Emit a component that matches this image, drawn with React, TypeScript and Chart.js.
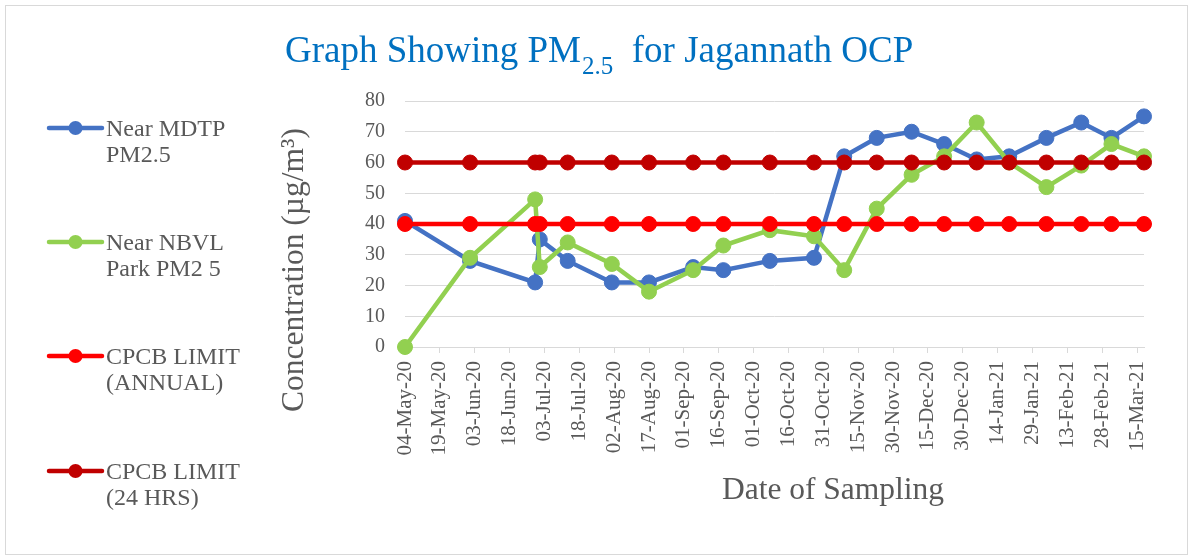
import React, { useEffect, useRef } from "react";
import { Chart, registerables } from "chart.js";

Chart.register(...registerables);

// ---- data ----
const sampleDates = [
  "2020-05-04", "2020-06-01", "2020-06-29", "2020-07-01", "2020-07-13",
  "2020-08-01", "2020-08-17", "2020-09-05", "2020-09-18", "2020-10-08",
  "2020-10-27", "2020-11-09", "2020-11-23", "2020-12-08", "2020-12-22",
  "2021-01-05", "2021-01-19", "2021-02-04", "2021-02-19", "2021-03-04",
  "2021-03-18",
];
const mdtpValues = [41, 28, 21, 35, 28, 21, 21, 26, 25, 28, 29, 62, 68, 70, 66, 61, 62, 68, 73, 68, 75];
const nbvlValues = [0, 29, 48, 26, 34, 27, 18, 25, 33, 38, 36, 25, 45, 56, 62, 73, 60, 52, 59, 66, 62];
const annualLimit = [40, 40, 40, 40, 40, 40, 40, 40, 40, 40, 40, 40, 40, 40, 40, 40, 40, 40, 40, 40, 40];
const dailyLimit = [60, 60, 60, 60, 60, 60, 60, 60, 60, 60, 60, 60, 60, 60, 60, 60, 60, 60, 60, 60, 60];

const tickDates = [
  "2020-05-04", "2020-05-19", "2020-06-03", "2020-06-18", "2020-07-03",
  "2020-07-18", "2020-08-02", "2020-08-17", "2020-09-01", "2020-09-16",
  "2020-10-01", "2020-10-16", "2020-10-31", "2020-11-15", "2020-11-30",
  "2020-12-15", "2020-12-30", "2021-01-14", "2021-01-29", "2021-02-13",
  "2021-02-28", "2021-03-15",
];
const yMin = 0;
const yMax = 80;
const yStep = 10;

const seriesLabels = [
  ["Near MDTP", "PM2.5"],
  ["Near NBVL", "Park PM2 5"],
  ["CPCB LIMIT", "(ANNUAL)"],
  ["CPCB LIMIT", "(24 HRS)"],
];
const seriesColors = ["#4472C4", "#92D050", "#FF0000", "#C00000"];

const titleMain = "Graph Showing PM";
const titleSub = "2.5";
const titleRest = "  for Jagannath OCP";
const yTitle = "Concentration (µg/m³)";
const xTitle = "Date of Sampling";

// ---- helpers ----
const DAY = 86400000;
const MONTHS = ["Jan", "Feb", "Mar", "Apr", "May", "Jun", "Jul", "Aug", "Sep", "Oct", "Nov", "Dec"];
const toUTC = (s: string) => {
  const [y, m, d] = s.split("-").map(Number);
  return Date.UTC(y, m - 1, d);
};
const origin = toUTC(sampleDates[0]);
const dayOf = (s: string) => Math.round((toUTC(s) - origin) / DAY);
const fmtDay = (day: number) => {
  const dt = new Date(origin + day * DAY);
  return `${String(dt.getUTCDate()).padStart(2, "0")}-${MONTHS[dt.getUTCMonth()]}-${String(dt.getUTCFullYear()).slice(2)}`;
};
const toPoints = (vals: number[]) => vals.map((v, i) => ({ x: dayOf(sampleDates[i]), y: v }));

const FONT = "'Liberation Serif', 'Times New Roman', serif";
const GRAY = "#595959";

const decorations = {
  id: "decorations",
  beforeDraw(chart: any) {
    const ctx = chart.ctx;
    ctx.save();
    ctx.fillStyle = "#ffffff";
    ctx.fillRect(0, 0, chart.width, chart.height);
    ctx.strokeStyle = "#D9D9D9";
    ctx.lineWidth = 1;
    ctx.strokeRect(5.5, 5.5, 1182, 549);
    ctx.restore();
  },
  afterDraw(chart: any) {
    const ctx = chart.ctx;
    ctx.save();
    // title
    ctx.fillStyle = "#0070C0";
    ctx.textBaseline = "alphabetic";
    ctx.textAlign = "left";
    let x = 285;
    ctx.font = `37px ${FONT}`;
    ctx.fillText(titleMain, x, 62);
    x += ctx.measureText(titleMain).width + 1;
    ctx.font = `25px ${FONT}`;
    ctx.fillText(titleSub, x, 74);
    x += ctx.measureText(titleSub).width;
    ctx.font = `37px ${FONT}`;
    ctx.fillText(titleRest, x, 62);

    // axis titles
    ctx.fillStyle = GRAY;
    ctx.font = `31.5px ${FONT}`;
    ctx.textAlign = "center";
    ctx.fillText(xTitle, 833, 499);

    ctx.save();
    ctx.translate(303, 270);
    ctx.rotate(-Math.PI / 2);
    ctx.font = `31.5px ${FONT}`;
    ctx.textAlign = "center";
    ctx.fillText(yTitle, 0, 0);
    ctx.restore();

    // legend
    const legendY = [128, 242, 356, 471];
    seriesLabels.forEach((lines, i) => {
      const y = legendY[i];
      ctx.strokeStyle = seriesColors[i];
      ctx.lineWidth = 4.5;
      ctx.lineCap = "round";
      ctx.beginPath();
      ctx.moveTo(49, y);
      ctx.lineTo(102, y);
      ctx.stroke();
      ctx.fillStyle = seriesColors[i];
      ctx.beginPath();
      ctx.arc(75.5, y, 7, 0, Math.PI * 2);
      ctx.fill();
      ctx.fillStyle = GRAY;
      ctx.font = `24px ${FONT}`;
      ctx.textAlign = "left";
      ctx.textBaseline = "alphabetic";
      lines.forEach((t, j) => ctx.fillText(t, 106, y + 8 + j * 26));
    });
    ctx.restore();
  },
};

export default function App() {
  const canvasRef = useRef<HTMLCanvasElement | null>(null);

  useEffect(() => {
    const canvas = canvasRef.current;
    if (!canvas) return;
    const mk = (label: string, vals: number[], color: string, order: number) => ({
      label,
      data: toPoints(vals),
      borderColor: color,
      backgroundColor: color,
      pointBackgroundColor: color,
      pointBorderColor: color,
      borderWidth: 4.5,
      pointRadius: 7.5,
      pointBorderWidth: 1,
      pointHoverRadius: 7.5,
      tension: 0,
      clip: false,
      order,
    });
    const chart = new Chart(canvas, {
      type: "line",
      data: {
        datasets: [
          mk(seriesLabels[0].join(" "), mdtpValues, seriesColors[0], 4),
          mk(seriesLabels[1].join(" "), nbvlValues, seriesColors[1], 3),
          mk(seriesLabels[2].join(" "), annualLimit, seriesColors[2], 2),
          mk(seriesLabels[3].join(" "), dailyLimit, seriesColors[3], 1),
        ] as any,
      },
      options: {
        responsive: false,
        animation: false,
        devicePixelRatio: 1,
        layout: { padding: { left: 345, top: 101, right: 48, bottom: 91 } },
        plugins: {
          legend: { display: false },
          title: { display: false },
          tooltip: { enabled: false },
        },
        scales: {
          x: {
            type: "linear",
            min: 0,
            max: dayOf(sampleDates[sampleDates.length - 1]),
            afterBuildTicks: (scale: any) => {
              scale.ticks = tickDates.map((d) => ({ value: dayOf(d) }));
            },
            afterFit: (scale: any) => {
              scale.height = 120;
            },
            grid: {
              drawOnChartArea: false,
              drawTicks: true,
              tickLength: 6,
              color: "#D9D9D9",
              lineWidth: 1,
            },
            border: { display: true, color: "#D9D9D9", width: 1 },
            ticks: {
              autoSkip: false,
              minRotation: 90,
              maxRotation: 90,
              padding: 8,
              color: GRAY,
              font: { family: FONT, size: 21 },
              callback: (v: any) => fmtDay(Number(v)),
            },
          },
          y: {
            type: "linear",
            min: yMin,
            max: yMax,
            afterFit: (scale: any) => {
              scale.width = 60;
            },
            grid: { color: "#D9D9D9", lineWidth: 1, drawTicks: false },
            border: { display: false },
            ticks: {
              stepSize: yStep,
              padding: 20,
              color: GRAY,
              font: { family: FONT, size: 20 },
            },
          },
        },
      },
      plugins: [decorations],
    });
    return () => chart.destroy();
  }, []);

  return (
    <div style={{ position: "absolute", left: 0, top: 0, width: 1192, height: 558, background: "#fff" }}>
      <canvas ref={canvasRef} width={1192} height={558} style={{ width: 1192, height: 558, display: "block" }} />
    </div>
  );
}
